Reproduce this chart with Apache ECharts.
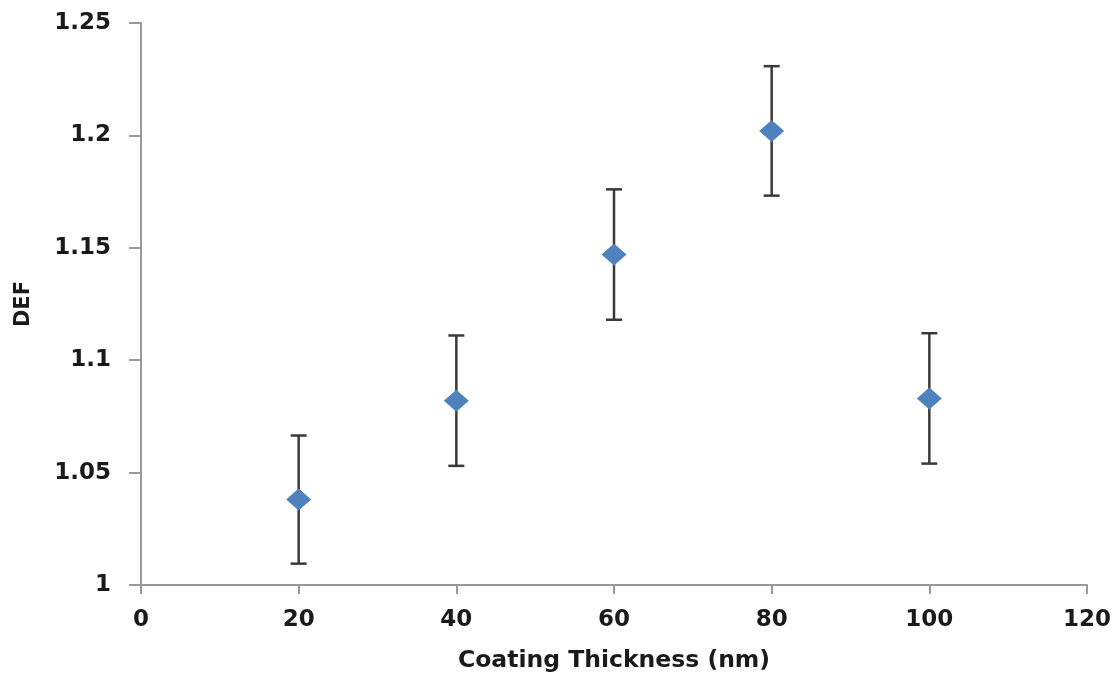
<!DOCTYPE html>
<html>
<head>
<meta charset="utf-8">
<script src="https://cdn.jsdelivr.net/npm/echarts@6/dist/echarts.min.js"></script>
<style>
  html, body { margin: 0; padding: 0; background: #fff; }
  #chart { width: 1115px; height: 675px; }
</style>
</head>
<body>
<div id="chart"></div>
<script>
// Coating thickness (nm) against DEF, with symmetric error bars
const thickness = [20, 40, 60, 80, 100];
const defValues = [1.038, 1.082, 1.147, 1.202, 1.083];
const defErrors = [0.0285, 0.029, 0.029, 0.0288, 0.029];
const yTicks = [1, 1.05, 1.1, 1.15, 1.2, 1.25];

const FONT = '"DejaVu Sans", sans-serif';
const TEXT = '#1a1a1a';

const points = thickness.map((x, i) => [x, defValues[i]]);
const bars = thickness.map((x, i) => [x, defValues[i] - defErrors[i], defValues[i] + defErrors[i]]);

const chart = echarts.init(document.getElementById('chart'), null, { renderer: 'canvas' });
chart.setOption({
  animation: false,
  backgroundColor: '#fff',
  grid: { left: 141, right: 28, top: 23, bottom: 90, containLabel: false, outerBoundsMode: 'none' },
  xAxis: {
    type: 'value',
    min: 0, max: 120, interval: 20,
    name: 'Coating Thickness (nm)',
    nameLocation: 'middle',
    nameGap: 64,
    nameTextStyle: { fontFamily: FONT, fontWeight: 'bold', fontSize: 23.5, color: TEXT },
    axisLine: { lineStyle: { color: '#999', width: 2 } },
    axisTick: { show: true, length: 9, lineStyle: { color: '#999', width: 2 } },
    axisLabel: { fontFamily: FONT, fontWeight: 'bold', fontSize: 23, color: TEXT, margin: 24 },
    splitLine: { show: false }
  },
  yAxis: {
    type: 'value',
    min: yTicks[0], max: yTicks[yTicks.length - 1], interval: 0.05,
    name: 'DEF',
    nameLocation: 'middle',
    nameGap: 107,
    nameRotate: 90,
    nameTextStyle: { fontFamily: FONT, fontWeight: 'bold', fontSize: 21, color: TEXT },
    axisLine: { show: true, lineStyle: { color: '#999', width: 2 } },
    axisTick: { show: true, length: 12, lineStyle: { color: '#999', width: 2 } },
    axisLabel: {
      fontFamily: FONT, fontWeight: 'bold', fontSize: 23, color: TEXT, margin: 30,
      formatter: v => String(+v.toFixed(2))
    },
    splitLine: { show: false }
  },
  series: [
    {
      type: 'custom',
      name: 'error',
      data: bars,
      z: 2,
      renderItem: function (params, api) {
        const x = api.value(0);
        const lo = api.coord([x, api.value(1)]);
        const hi = api.coord([x, api.value(2)]);
        const cap = 8;
        const style = { stroke: '#3a3a3a', lineWidth: 2.5 };
        return {
          type: 'group',
          children: [
            { type: 'line', shape: { x1: lo[0], y1: lo[1], x2: hi[0], y2: hi[1] }, style },
            { type: 'line', shape: { x1: hi[0] - cap, y1: hi[1], x2: hi[0] + cap, y2: hi[1] }, style },
            { type: 'line', shape: { x1: lo[0] - cap, y1: lo[1], x2: lo[0] + cap, y2: lo[1] }, style }
          ]
        };
      }
    },
    {
      type: 'scatter',
      name: 'DEF',
      data: points,
      z: 3,
      symbol: 'diamond',
      symbolSize: [25, 22],
      itemStyle: { color: '#4F81BD', opacity: 1 }
    }
  ]
});
</script>
</body>
</html>
